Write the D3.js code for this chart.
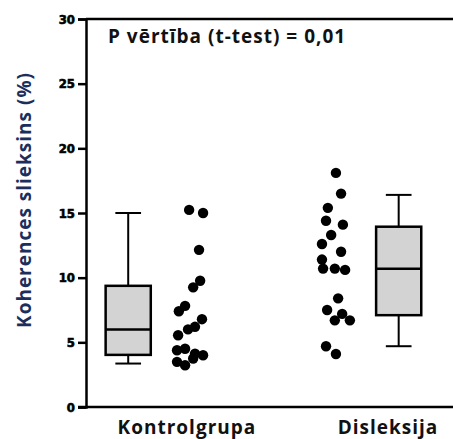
<!DOCTYPE html>
<html>
<head>
<meta charset="utf-8">
<script src="https://cdn.jsdelivr.net/npm/d3@7"></script>
<style>
  body { margin: 0; background: #fff; }
  svg { display: block; }
</style>
</head>
<body>
<div id="canvas"></div>
<script>
// data
const groups = ["Kontrolgrupa", "Disleksija"];
const labelPos = [2.75, 8.23];      // where the group labels sit on x
const boxPos = [1.15, 8.52];        // box centres on x
const boxMin = [3.36, 4.7];
const boxQ1 = [4.03, 7.1];
const boxMedian = [6.0, 10.69];
const boxQ3 = [9.37, 13.94];
const boxMax = [15.0, 16.4];

const controlX = [2.81, 3.19, 3.08, 3.11, 2.92, 2.70, 2.53, 3.16, 2.97, 2.78, 2.51, 2.48, 2.70, 3.19, 2.97, 2.48, 2.70, 2.92];
const controlY = [15.24, 15.0, 12.15, 9.76, 9.25, 7.82, 7.4, 6.79, 6.2, 6.0, 5.55, 4.39, 4.5, 4.0, 4.13, 3.49, 3.23, 3.75];
const dysX = [6.81, 6.95, 6.59, 6.54, 7.00, 6.68, 6.43, 6.95, 6.43, 6.46, 6.78, 7.06, 6.87, 6.57, 6.98, 6.78, 7.19, 6.54, 6.81];
const dysY = [18.1, 16.5, 15.4, 14.4, 14.1, 13.3, 12.6, 12.0, 11.4, 10.7, 10.7, 10.6, 8.4, 7.5, 7.2, 6.7, 6.7, 4.7, 4.1];

const yTicks = [0, 5, 10, 15, 20, 25, 30];
const pText = "P vērtība (t-test) = 0,01";
const yTitle = "Koherences slieksins (%)";

const width = 453;
const height = 439;
const margin = { top: 19, left: 86, bottom: 32, right: 0 };
const iwidth = width - margin.left - margin.right;
const iheight = height - margin.top - margin.bottom;

const svg = d3.select("#canvas").append("svg")
    .attr("width", width)
    .attr("height", height);

const g = svg.append("g").attr("transform", `translate(${margin.left},${margin.top})`);

const x = d3.scaleLinear().domain([0, 10]).range([0, iwidth]);
const y = d3.scaleLinear().domain([0, 30]).range([iheight, 0]);

const boxW = 1.23;
const capW = 0.7;
const labelFont = "'Open Sans', Lato, sans-serif";

// top frame line
g.append("line")
    .attr("x1", 0).attr("x2", iwidth)
    .attr("y1", y(30)).attr("y2", y(30))
    .attr("stroke", "#000").attr("stroke-width", 2.5);

// boxes
const boxes = groups.map((name, i) => ({
    name, pos: boxPos[i], min: boxMin[i], q1: boxQ1[i], med: boxMedian[i], q3: boxQ3[i], max: boxMax[i]
}));

const bg = g.selectAll(".box").data(boxes).enter().append("g").attr("class", "box");

bg.append("line")
    .attr("x1", d => x(d.pos)).attr("x2", d => x(d.pos))
    .attr("y1", d => y(d.max)).attr("y2", d => y(d.q3))
    .attr("stroke", "#000").attr("stroke-width", 2);
bg.append("line")
    .attr("x1", d => x(d.pos)).attr("x2", d => x(d.pos))
    .attr("y1", d => y(d.q1)).attr("y2", d => y(d.min))
    .attr("stroke", "#000").attr("stroke-width", 2);
bg.append("line")
    .attr("x1", d => x(d.pos - capW / 2)).attr("x2", d => x(d.pos + capW / 2))
    .attr("y1", d => y(d.max)).attr("y2", d => y(d.max))
    .attr("stroke", "#000").attr("stroke-width", 2);
bg.append("line")
    .attr("x1", d => x(d.pos - capW / 2)).attr("x2", d => x(d.pos + capW / 2))
    .attr("y1", d => y(d.min)).attr("y2", d => y(d.min))
    .attr("stroke", "#000").attr("stroke-width", 2);
bg.append("rect")
    .attr("x", d => x(d.pos - boxW / 2))
    .attr("width", d => x(boxW) - x(0))
    .attr("y", d => y(d.q3))
    .attr("height", d => y(d.q1) - y(d.q3))
    .attr("fill", "#d3d3d3")
    .attr("stroke", "#000").attr("stroke-width", 2.5);
bg.append("line")
    .attr("x1", d => x(d.pos - boxW / 2)).attr("x2", d => x(d.pos + boxW / 2))
    .attr("y1", d => y(d.med)).attr("y2", d => y(d.med))
    .attr("stroke", "#000").attr("stroke-width", 2.5);

// dots
const dots = controlX.map((v, i) => ({ x: v, y: controlY[i] }))
    .concat(dysX.map((v, i) => ({ x: v, y: dysY[i] })));

g.selectAll(".dot").data(dots).enter().append("circle")
    .attr("class", "dot")
    .attr("cx", d => x(d.x))
    .attr("cy", d => y(d.y))
    .attr("r", 5.2)
    .attr("fill", "#000");

// axes
const yAxis = g.append("g")
    .call(d3.axisLeft(y).tickValues(yTicks).tickSize(8).tickPadding(3));
yAxis.select(".domain").attr("stroke-width", 2.5);
yAxis.selectAll(".tick line").attr("stroke-width", 2.5);
yAxis.selectAll("text")
    .style("font-family", "'DejaVu Sans Condensed', 'DejaVu Sans'")
    .style("font-weight", "bold")
    .style("font-size", "13px")
    .attr("fill", "#000")
    .attr("stroke", "#000")
    .attr("stroke-width", 0.6);

g.append("line")
    .attr("x1", -8).attr("x2", iwidth)
    .attr("y1", y(0)).attr("y2", y(0))
    .attr("stroke", "#000").attr("stroke-width", 2.5);

function labelStyle(sel) {
    sel.style("font-family", labelFont)
        .style("font-weight", "bold")
        .style("font-size", "19px")
        .style("letter-spacing", "1px");
}

// group labels
g.selectAll(".glabel").data(groups).enter().append("text")
    .attr("class", "glabel")
    .attr("x", (d, i) => x(labelPos[i]))
    .attr("y", iheight + 27)
    .attr("text-anchor", "middle")
    .call(labelStyle)
    .attr("fill", "#111")
    .text(d => d);

// p value text
g.append("text")
    .attr("x", 22)
    .attr("y", 24)
    .call(labelStyle)
    .attr("fill", "#111")
    .text(pText);

// y title
svg.append("text")
    .attr("transform", `translate(31, 200) rotate(-90)`)
    .attr("text-anchor", "middle")
    .call(labelStyle)
    .attr("fill", "#1c2e5c")
    .text(yTitle);
</script>
</body>
</html>
